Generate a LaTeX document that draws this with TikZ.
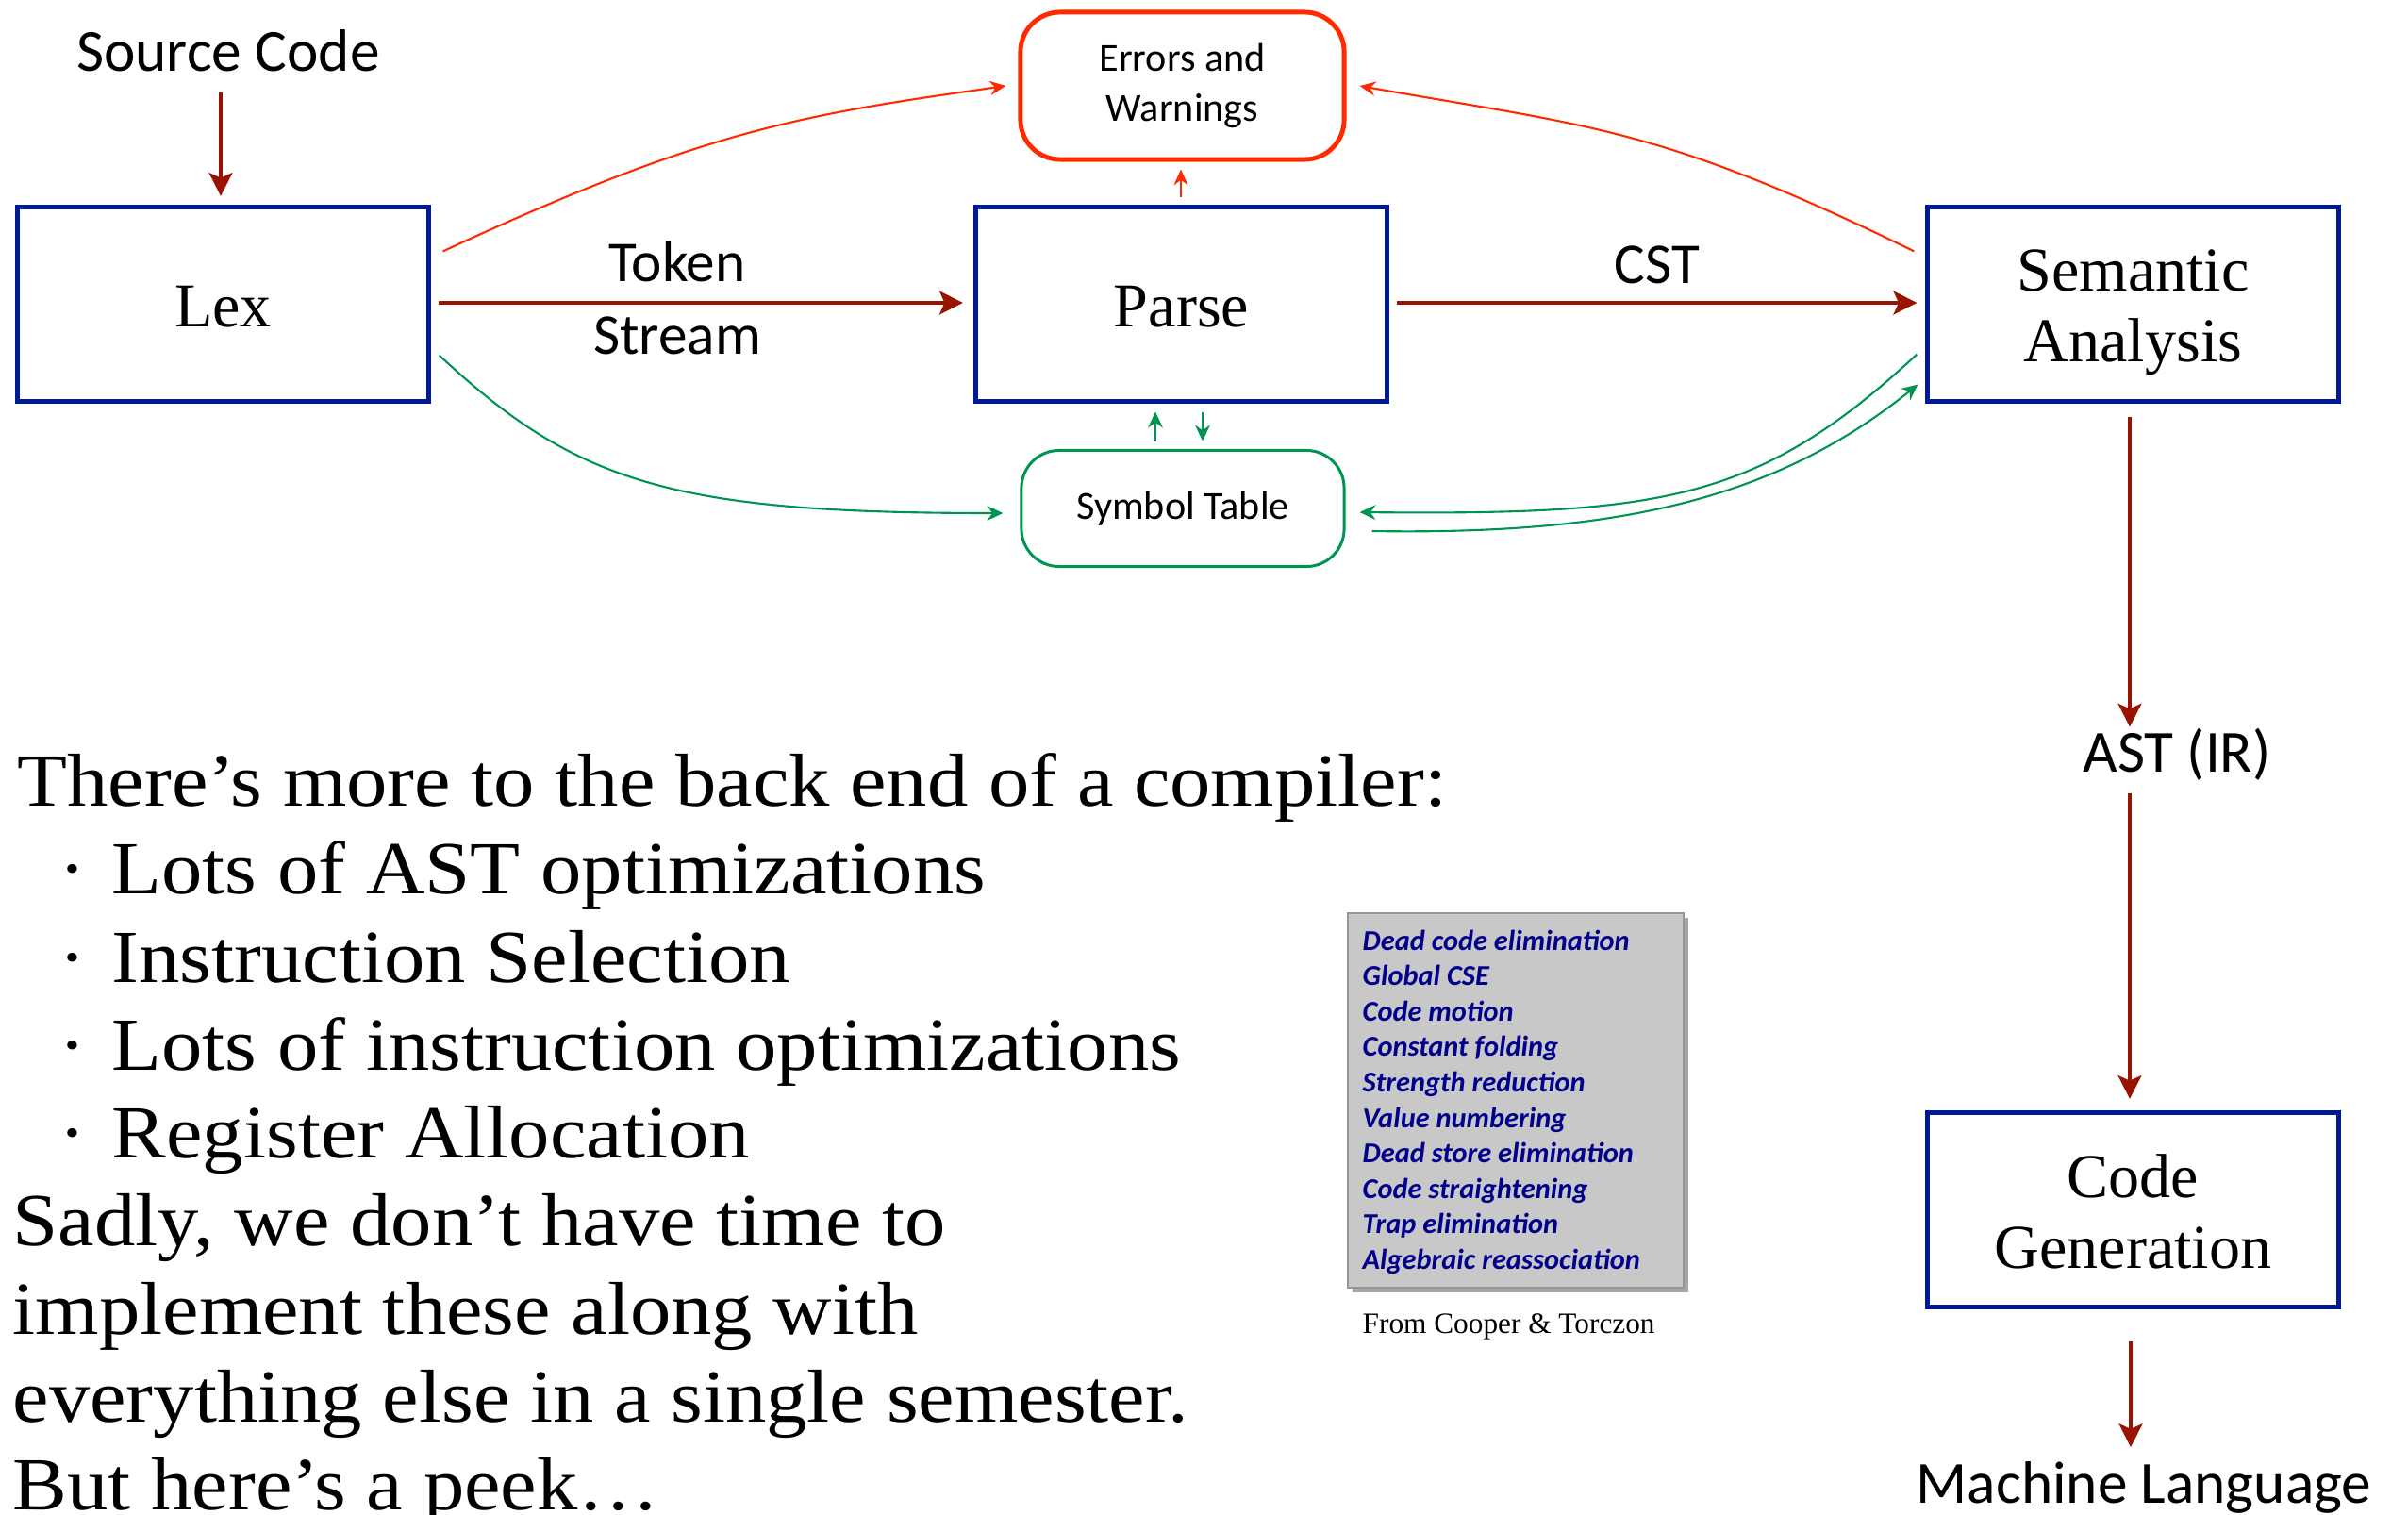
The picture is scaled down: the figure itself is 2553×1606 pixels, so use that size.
\documentclass[tikz,border=0pt]{standalone}
\usepackage{fontspec}
\setmainfont{Liberation Serif}
\newfontfamily\labelsans{Carlito}
\newfontfamily\bodyserif[FakeStretch=1.09]{Liberation Serif}
\usetikzlibrary{arrows.meta,calc,shadows}

\definecolor{boxblue}{RGB}{0,26,150}
\definecolor{flowred}{RGB}{152,20,0}
\definecolor{errred}{RGB}{255,42,0}
\definecolor{symgreen}{RGB}{0,148,82}
\definecolor{optnavy}{RGB}{0,0,140}
\definecolor{optgray}{RGB}{200,200,200}
\definecolor{optedge}{RGB}{150,150,150}

\newcommand\itemdot{\makebox[0.56cm][l]{·}}

\tikzset{
  stage/.style={draw=boxblue, line width=1.45pt, minimum width=4.36cm,
    minimum height=2.05cm, inner sep=0pt},
  stagetext/.style={inner sep=0pt, align=center,
    font=\fontsize{18.8}{21.3}\selectfont},
  flow/.style={draw=flowred, line width=1.35pt,
    -{Stealth[length=7pt,width=7pt,inset=1.5pt]}},
  errline/.style={draw=errred, line width=0.6pt,
    -{Stealth[length=4.8pt,width=4.3pt,inset=1.6pt]}},
  symline/.style={draw=symgreen, line width=0.6pt,
    -{Stealth[length=4.8pt,width=4.5pt,inset=1.6pt]}},
  biglabel/.style={font=\labelsans\fontsize{18}{21}\selectfont, inner sep=0pt, anchor=base},
  flowlabel/.style={font=\labelsans\fontsize{17.4}{20}\selectfont, inner sep=0pt, anchor=base},
  errbox/.style={draw=errred, line width=1.4pt, rounded corners=0.42cm,
    minimum width=3.43cm, minimum height=1.56cm, inner sep=0pt, align=center,
    font=\labelsans\fontsize{12}{14.9}\selectfont},
  symbox/.style={draw=symgreen, line width=0.85pt, rounded corners=0.4cm,
    minimum width=3.42cm, minimum height=1.23cm, inner sep=0pt,
    font=\labelsans\fontsize{12}{14.9}\selectfont},
  bodyline/.style={font=\bodyserif\fontsize{22.6}{26.5}\selectfont,
    inner sep=0pt, anchor=base west},
  optline/.style={font=\labelsans\bfseries\itshape\fontsize{8.65}{10}\selectfont,
    text=optnavy, inner sep=0pt, anchor=base west},
  optpanel/.style={draw=optedge, fill=optgray, line width=0.7pt,
    minimum width=3.56cm, minimum height=3.97cm, inner sep=0pt,
    drop shadow={shadow xshift=0.05cm, shadow yshift=-0.05cm, opacity=0.35, fill=black}}
}

\begin{document}
\begin{tikzpicture}[x=0.01cm, y=0.01cm]
\useasboundingbox[fill=white] (0,0) rectangle (2553,-1606);

% pipeline stages and their names
\node[stage] (lex) at (236.5,-322.5) {};
\node[stage] (parse) at (1252.5,-322.5) {};
\node[stage] (sem) at (2261.5,-322.5) {};
\node[stage] (codegen) at (2261.5,-1282.5) {};
\node[stagetext] (lextext) at ($(lex.center)+(0,-3)$) {Lex};
\node[stagetext] (parsetext) at ($(parse.center)+(0,-3)$) {Parse};
\node[stagetext] (semtext) at ($(sem.center)+(0,-9)$) {Semantic\\Analysis};
\node[stagetext] (codetext) at ($(codegen.center)+(0,-2)$) {Code\\Generation};

% side tables
\node[errbox] (err) at (1253.5,-91) {Errors and\\Warnings};
\node[symbox] (sym) at (1254,-539) {Symbol Table};

% flow labels
\node[biglabel] (src) at (242,-75) {Source Code};
\node[flowlabel] (tok) at (718,-298.5) {Token};
\node[flowlabel] (strm) at (718,-375) {Stream};
\node[flowlabel] (cst) at (1757,-300) {CST};
\node[biglabel] (ast) at (2308,-818) {AST (IR)};
\node[biglabel] (mach) at (2273,-1593) {Machine Language};

\coordinate (astin) at ($(sem.south)+(-3.5,-343)$);
\coordinate (astout) at ($(sem.south)+(-3.5,-413)$);

% main flow
\draw[flow] ($(src.south)+(-8,-22)$) -- ($(lex.north)+(-2.5,9.5)$);
\draw[flow] ($(lex.east)+(8,1.5)$) -- ($(parse.west)+(-11,1.5)$);
\draw[flow] ($(parse.east)+(8,1.5)$) -- ($(sem.west)+(-8.5,1.5)$);
\draw[flow] ($(sem.south)+(-3.5,-14)$) -- (astin);
\draw[flow] (astout) -- ($(codegen.north)+(-3.5,12.5)$);
\draw[flow] ($(codegen.south)+(-2.5,-34.5)$) -- ($(codegen.south)+(-2.5,-146.5)$);

% error reporting
\draw[errline] ($(parse.north)+(-0.5,8)$) -- ($(err.south)+(-1.5,-8)$);
\draw[errline] ($(lex.north east)+(12.5,-49)$) .. controls +(278,129) and +(-218,-31) .. ($(err.west)+(-13,0)$);
\draw[errline] ($(sem.north west)+(-11.5,-49)$) .. controls +(-270,132) and +(246,-43.5) .. ($(err.east)+(14,0)$);

% symbol table traffic
\draw[symline] ($(sym.north)+(-29,7.5)$) -- ($(parse.south)+(-27.5,-9)$);
\draw[symline] ($(parse.south)+(22.5,-9)$) -- ($(sym.north)+(21,8.5)$);
\draw[symline] ($(lex.south east)+(8.5,51)$) .. controls +(146,-136) and +(-350,0) .. ($(sym.west)+(-18,-5)$);
\draw[symline] ($(sem.south west)+(-8.5,52)$) .. controls +(-168,-156) and +(320,-3) .. ($(sym.east)+(15,-4)$);
\draw[symline] ($(sym.east)+(28,-24)$) .. controls +(250,-4) and +(-156,-126) .. ($(sem.south west)+(-7.5,20)$);

% back-end remarks
\node[bodyline] (l1) at (18,-854) {There’s more to the back end of a compiler:};
\node[bodyline] (l2) at (62,-947) {\itemdot Lots of AST optimizations};
\node[bodyline] (l3) at (62,-1041) {\itemdot Instruction Selection};
\node[bodyline] (l4) at (62,-1134) {\itemdot Lots of instruction optimizations};
\node[bodyline] (l5) at (62,-1227) {\itemdot Register Allocation};
\node[bodyline] (l6) at (13,-1320.5) {Sadly, we don’t have time to};
\node[bodyline] (l7) at (13,-1414) {implement these along with};
\node[bodyline] (l8) at (13,-1507) {everything else in a single semester.};
\node[bodyline] (l9) at (13,-1600) {But here’s a peek…};

% optimization list
\node[optpanel] (optbox) at (1607,-1166.5) {};
\foreach \t [count=\i] in {Dead code elimination, Global CSE, Code motion,
    Constant folding, Strength reduction, Value numbering,
    Dead store elimination, Code straightening, Trap elimination,
    Algebraic reassociation}
  \node[optline] (opt\i) at (1444,{-1007-37.6*(\i-1)}) {\t};
\node[inner sep=0pt, anchor=base west, font=\fontsize{8.9}{10}\selectfont] (credit) at (1444,-1413) {From Cooper \& Torczon};
\end{tikzpicture}
\end{document}
